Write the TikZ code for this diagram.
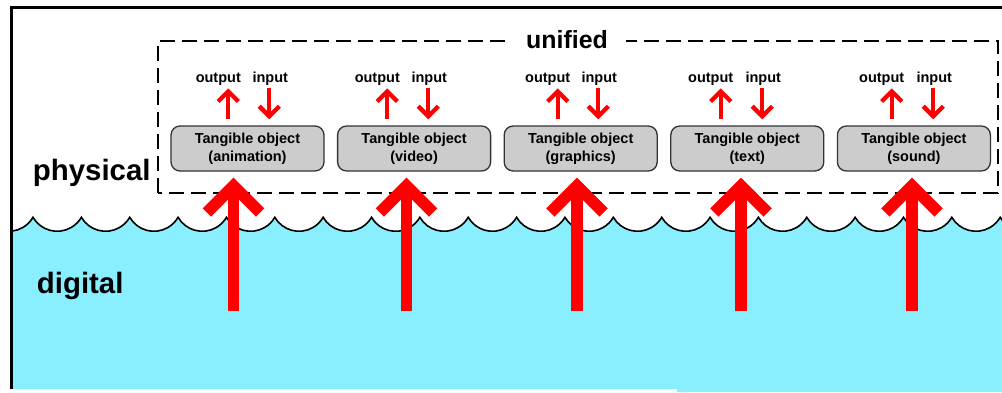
\documentclass[tikz,border=0pt]{standalone}
\usepackage{fontspec}
\setmainfont{Liberation Sans}
\usetikzlibrary{arrows.meta}
\usetikzlibrary{calc}
\definecolor{water}{RGB}{137,239,255}
\definecolor{objgray}{RGB}{204,204,204}
\tikzset{tangible/.style={draw=black!80, line width=1.3pt, fill=objgray, rounded corners=9pt,
    minimum width=153pt, minimum height=45pt, align=center, inner sep=0pt,
    font=\fontsize{14.5}{17.7}\selectfont\bfseries}}
\tikzset{ioarrow/.style={red, line width=4.3pt, -{Straight Barb[length=10.1pt,width=20.2pt]}}}
\tikzset{iolabel/.style={anchor=base, inner sep=0pt, text=black, font=\fontsize{14.5}{17}\selectfont\bfseries}}
\tikzset{bigarrow/.style={red, line width=11.7pt, -{Straight Barb[length=26.6pt,width=53.4pt]}, shorten >=6pt}}
\tikzset{world/.style={anchor=base west, inner sep=0pt, font=\fontsize{29.4}{34}\selectfont\bfseries}}

\begin{document}
\begin{tikzpicture}[x=1pt, y=1pt]
    \useasboundingbox (0,0) rectangle (1002,392);
    %Water
    \begin{scope}
      \clip (11.3,0) rectangle (1002,392);
      \fill[water] (-15.35,174.7) \foreach \k in {0,...,21} {arc[start angle=210, end angle=330, radius=27.92]} -- (1100,0) -- (-15.35,0) -- cycle;
      \draw[line width=1.6pt] (-15.35,174.7) \foreach \k in {0,...,21} {arc[start angle=210, end angle=330, radius=27.92]};
    \end{scope}
    \fill[white] (0,0) rectangle (677,2.7);
    %Frame
    \draw[line width=2.8pt] (11.3,2.7) |- (1002,384.5);
    \node[world] (phys) at (32.7,212) {physical};
    \node[world] (digi) at (36.7,98.7) {digital};
    %Unified
    \draw[line width=2pt, dash pattern=on 15pt off 7pt] (158,199) rectangle (998,351);
    \node[fill=white, inner xsep=18pt, inner ysep=4pt, anchor=base, font=\fontsize{24.9}{28}\selectfont\bfseries] (uni) at (567,343.7) {unified};
    %Objects
    \foreach \i/\kind/\o/\n/\b in {1/animation/-19.2/21.8/-14, 2/video/-26.8/14.2/-7.6, 3/graphics/-23/17.6/-3.7, 4/text/-26.6/15/-6.3, 5/sound/-22.2/19.4/-1.9}
    {
      \node[tangible] (obj\i) at ({247.5+166.6*(\i-1)},243.5) {Tangible object\\(\kind)};
      \draw[ioarrow] ($(obj\i.north)+(\o,6)$) -- ++(0,31) node[iolabel, xshift=-10pt, yshift=6.3pt] (out\i) {output};
      \draw[ioarrow] ($(obj\i.north)+(\n,37)$) node[iolabel, xshift=1pt, yshift=6.3pt] (in\i) {input} -- ++(0,-31);
      \coordinate (dig\i) at ($(obj\i.south)+(\b,-139.7)$);
      \draw[bigarrow] (dig\i) -- (dig\i |- obj\i.south);
    }
\end{tikzpicture}
\end{document}
